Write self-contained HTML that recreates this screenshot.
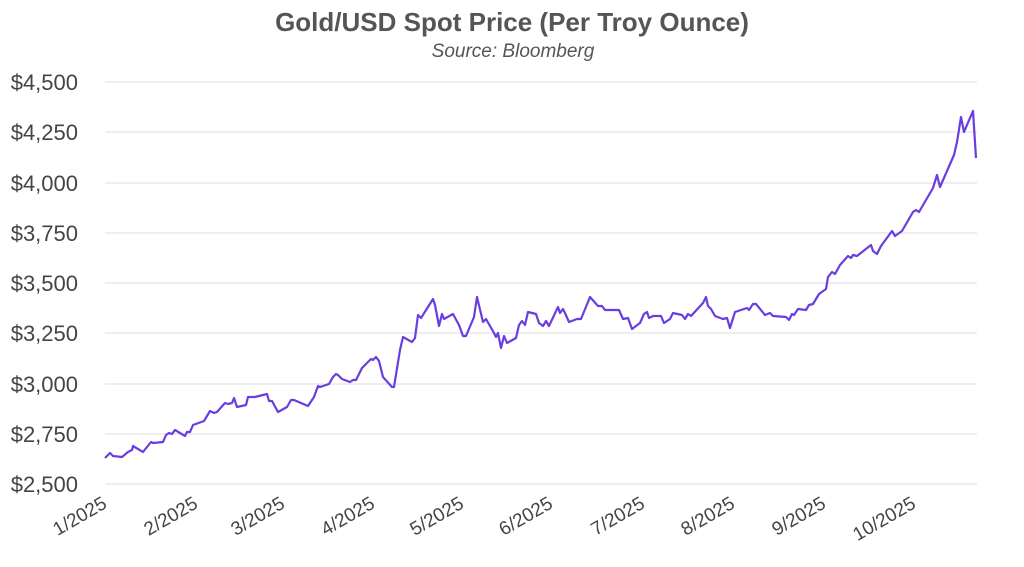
<!DOCTYPE html>
<html><head><meta charset="utf-8"><style>
body{margin:0;background:#fff;}
svg{display:block;font-family:"Liberation Sans",sans-serif;}
</style></head><body>
<svg width="1024" height="567" viewBox="0 0 1024 567">
<text x="512" y="31" text-anchor="middle" font-size="26" font-weight="bold" fill="#555">Gold/USD Spot Price (Per Troy Ounce)</text>
<text x="513" y="57" text-anchor="middle" font-size="19" font-style="italic" fill="#555">Source: Bloomberg</text>
<g stroke="#e8e8ec" stroke-width="1.5">
<line x1="105" x2="977" y1="82" y2="82"/><line x1="105" x2="977" y1="132" y2="132"/><line x1="105" x2="977" y1="183" y2="183"/><line x1="105" x2="977" y1="233" y2="233"/><line x1="105" x2="977" y1="283" y2="283"/><line x1="105" x2="977" y1="333" y2="333"/><line x1="105" x2="977" y1="384" y2="384"/><line x1="105" x2="977" y1="434" y2="434"/><line x1="105" x2="977" y1="484" y2="484"/>
</g>
<g font-size="22" fill="#444" text-anchor="end">
<text x="78" y="90">$4,500</text><text x="78" y="140">$4,250</text><text x="78" y="191">$4,000</text><text x="78" y="241">$3,750</text><text x="78" y="291">$3,500</text><text x="78" y="341">$3,250</text><text x="78" y="392">$3,000</text><text x="78" y="442">$2,750</text><text x="78" y="492">$2,500</text>
</g>
<g font-size="19" fill="#444" text-anchor="end">
<text transform="translate(108,507) rotate(-30)">1/2025</text>
<text transform="translate(199,507) rotate(-30)">2/2025</text>
<text transform="translate(286,507) rotate(-30)">3/2025</text>
<text transform="translate(376,507) rotate(-30)">4/2025</text>
<text transform="translate(465,507) rotate(-30)">5/2025</text>
<text transform="translate(554,507) rotate(-30)">6/2025</text>
<text transform="translate(646,507) rotate(-30)">7/2025</text>
<text transform="translate(736,507) rotate(-30)">8/2025</text>
<text transform="translate(827,507) rotate(-30)">9/2025</text>
<text transform="translate(917,507) rotate(-30)">10/2025</text>
</g>
<polyline fill="none" stroke="#6a3de0" stroke-width="2.2" stroke-linejoin="round" points="105,458 110,453 113,456 122,457 128,452 132,450 133,446 143,452 151,442 153,443 163,442 166,435 169,433 172,434 175,430 185,436 187,432 190,432 193,425 204,421 210,411 214,413 217,412 225,403 228,404 232,403 234,398 237,407 246,405 248,397 253,397 255,397 267,394 269,401 272,401 278,412 287,407 291,400 294,400 308,406 312,400 314,397 318,386 320,387 329,384 333,377 336,374 338,375 342,379 350,382 353,380 356,380 362,368 367,363 371,359 373,360 376,357 379,361 383,377 392,387 394,387 400,350 403,337 412,342 415,338 418,315 421,318 433,299 435,305 439,326 442,314 444,319 453,314 459,325 463,336 466,336 474,317 477,297 483,322 486,319 494,333 496,337 498,333 501,348 504,336 507,343 516,338 519,325 522,321 525,325 528,312 536,314 539,323 543,326 546,321 549,326 558,307 560,313 563,309 565,313 569,322 577,319 581,319 590,297 598,306 602,306 605,310 619,310 623,319 628,318 632,329 640,323 644,314 647,312 649,318 653,316 661,316 664,323 670,319 673,313 682,315 685,319 688,314 691,316 703,303 706,297 708,306 711,309 715,316 723,319 727,318 730,328 735,312 747,308 749,310 753,304 756,304 765,315 770,313 773,316 786,317 789,320 792,314 794,315 798,309 806,310 809,305 813,304 819,294 826,289 828,277 832,272 835,274 840,265 848,256 851,258 853,255 857,256 871,245 873,251 877,254 881,246 892,231 895,236 902,231 913,212 916,210 919,212 933,188 937,175 940,187 954,155 957,142 961,117 964,132 973,111 976,158"/>
</svg>
</body></html>
